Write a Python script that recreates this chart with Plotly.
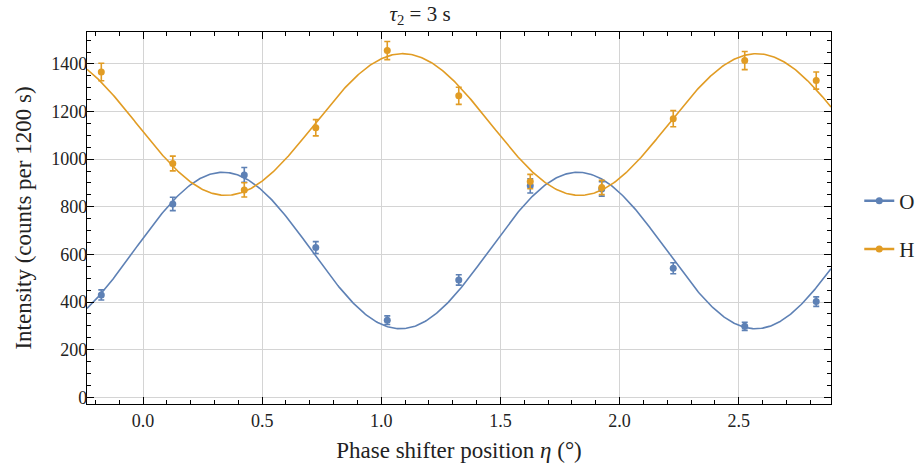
import numpy as np
import plotly.graph_objects as go

# ---- data ----
eta = [-0.175, 0.125, 0.425, 0.725, 1.025, 1.325, 1.625, 1.925, 2.225, 2.525, 2.825]
O_counts = [430, 812, 934, 629, 324, 493, 888, 875, 542, 298, 402]
O_err = [21, 28, 31, 25, 18, 22, 30, 30, 23, 17, 20]
H_counts = [1366, 982, 871, 1132, 1456, 1266, 906, 881, 1170, 1414, 1330]
H_err = [37, 31, 30, 34, 38, 36, 30, 30, 34, 38, 36]

# fitted sinusoid parameters (offset, amplitude, peak position, period)
O_fit = dict(offset=616.5, amp=328.5, peak=0.335, period=1.49)
H_fit = dict(offset=1145.5, amp=297.5, peak=1.09, period=1.485)

x_range = [-0.235, 2.887]
y_range = [-28, 1534]

BLUE = "#5E81B5"
ORANGE = "#E19C24"
FONT = "Liberation Serif, Times New Roman, serif"
TXT = "#222"


def fit_curve(p, xs):
    return p["offset"] + p["amp"] * np.cos(2 * np.pi * (xs - p["peak"]) / p["period"])


xs = np.linspace(x_range[0], x_range[1], 600)

fig = go.Figure()
for name, ys, err, p, col, grp in [
    ("O", O_counts, O_err, O_fit, BLUE, "a"),
    ("H", H_counts, H_err, H_fit, ORANGE, "b"),
]:
    fig.add_trace(go.Scatter(
        x=xs, y=fit_curve(p, xs), mode="lines",
        line=dict(color=col, width=1.6), showlegend=False, hoverinfo="skip",
    ))
    fig.add_trace(go.Scatter(
        x=eta, y=ys, mode="markers", name=name, legendgroup=grp,
        marker=dict(color=col, size=7),
        error_y=dict(type="data", array=err, color=col, thickness=1.6, width=3),
        showlegend=False,
    ))
    # legend entry (line with marker)
    fig.add_trace(go.Scatter(
        x=[None], y=[None], mode="lines+markers", name=name, legendgroup=grp,
        line=dict(color=col, width=2.5), marker=dict(color=col, size=7),
    ))

axis_common = dict(
    showline=True, linecolor="black", linewidth=1.3, mirror="ticks",
    ticks="inside", ticklen=7, tickwidth=1, tickcolor="black",
    showgrid=True, gridcolor="#d4d4d4", gridwidth=1, zeroline=False,
    automargin=False,
    tickfont=dict(family=FONT, size=18, color=TXT),
)

fig.update_xaxes(
    range=x_range, dtick=0.5, tick0=0, tickformat=".1f",
    minor=dict(dtick=0.1, tick0=0, ticks="inside", ticklen=4, tickcolor="black", showgrid=False),
    title=dict(text="Phase shifter position <i>η</i> (°)", font=dict(family=FONT, size=23, color=TXT), standoff=12),
    **axis_common,
)
fig.update_yaxes(
    range=y_range, dtick=200, tick0=0, ticklabelstandoff=-5,
    minor=dict(dtick=50, tick0=0, ticks="inside", ticklen=4, tickcolor="black", showgrid=False),
    title=dict(text="Intensity (counts per 1200 s)", font=dict(family=FONT, size=23, color=TXT), standoff=13),
    **axis_common,
)

fig.update_layout(
    width=919, height=472,
    margin=dict(l=87, r=88, t=32, b=68, autoexpand=False),
    paper_bgcolor="white", plot_bgcolor="white",
    title=dict(text="<i>τ</i><sub>2</sub> = 3 s", xref="paper", x=0.4476, xanchor="center",
               yref="container", y=0.972, yanchor="middle",
               font=dict(family=FONT, size=21, color=TXT)),
    legend=dict(xref="container", x=0.935, xanchor="left", yref="container", y=0.523, yanchor="middle",
                font=dict(family=FONT, size=21, color=TXT),
                tracegroupgap=18, traceorder="grouped", itemwidth=30,
                bgcolor="rgba(0,0,0,0)"),
    showlegend=True,
)

fig.write_html("out.html")
